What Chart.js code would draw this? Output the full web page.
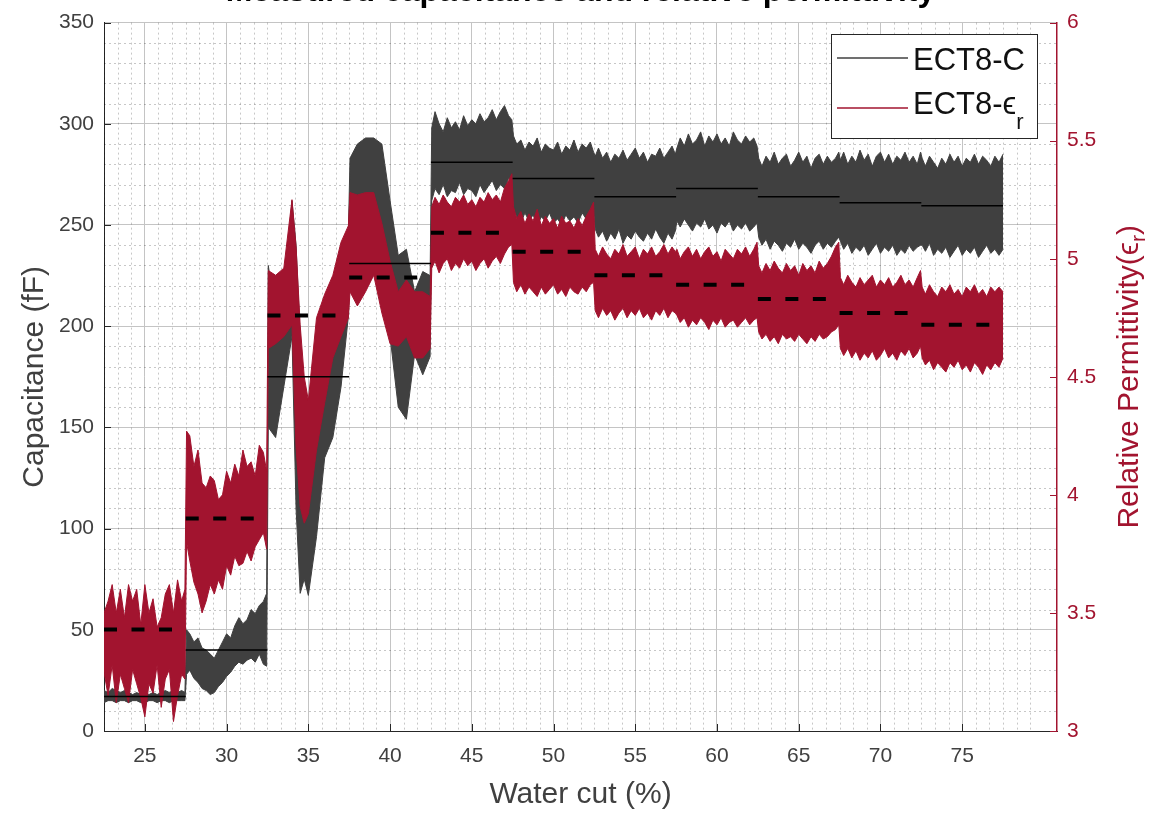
<!DOCTYPE html>
<html>
<head>
<meta charset="utf-8">
<script src="https://cdn.jsdelivr.net/npm/chart.js@4.4.1/dist/chart.umd.min.js"></script>
<style>
  html, body { margin: 0; padding: 0; background: #fff; }
</style>
</head>
<body>
<canvas id="ectChart" width="1155" height="816"></canvas>
<script>
// water cut sample positions (%), one row per step plateau
const waterCut = [
  22.5, 22.75, 23, 23.25, 23.5, 23.75, 24, 24.25, 24.5, 24.75, 25, 25.25, 25.5, 25.75, 26, 26.25, 26.5, 26.75, 27, 27.25, 27.45,
  27.55, 27.75, 28, 28.25, 28.5, 28.75, 29, 29.25, 29.5, 29.75, 30, 30.25, 30.5, 30.75, 31, 31.25, 31.5, 31.75, 32, 32.25, 32.45,
  32.55, 33, 33.5, 34, 34.25, 34.5, 34.75, 35, 35.5, 36, 36.5, 37, 37.45,
  37.55, 38, 38.5, 39, 39.5, 40, 40.5, 41, 41.5, 42, 42.45,
  42.55, 42.75, 43, 43.25, 43.5, 43.75, 44, 44.25, 44.5, 44.75, 45, 45.25, 45.5, 45.75, 46, 46.25, 46.5, 46.75, 47, 47.25, 47.45,
  47.55, 47.75, 48, 48.25, 48.5, 48.75, 49, 49.25, 49.5, 49.75, 50, 50.25, 50.5, 50.75, 51, 51.25, 51.5, 51.75, 52, 52.25, 52.45,
  52.55, 52.75, 53, 53.25, 53.5, 53.75, 54, 54.25, 54.5, 54.75, 55, 55.25, 55.5, 55.75, 56, 56.25, 56.5, 56.75, 57, 57.25, 57.45,
  57.55, 57.75, 58, 58.25, 58.5, 58.75, 59, 59.25, 59.5, 59.75, 60, 60.25, 60.5, 60.75, 61, 61.25, 61.5, 61.75, 62, 62.25, 62.45,
  62.55, 62.75, 63, 63.25, 63.5, 63.75, 64, 64.25, 64.5, 64.75, 65, 65.25, 65.5, 65.75, 66, 66.25, 66.5, 66.75, 67, 67.25, 67.45,
  67.55, 67.75, 68, 68.25, 68.5, 68.75, 69, 69.25, 69.5, 69.75, 70, 70.25, 70.5, 70.75, 71, 71.25, 71.5, 71.75, 72, 72.25, 72.45,
  72.55, 72.75, 73, 73.25, 73.5, 73.75, 74, 74.25, 74.5, 74.75, 75, 75.25, 75.5, 75.75, 76, 76.25, 76.5, 76.75, 77, 77.25, 77.5
];

// capacitance noise envelope (fF)
const capHigh = [
  20, 19, 21, 20, 19, 20, 19, 18, 19, 18, 19, 18, 19, 18, 19, 20, 19, 20, 19, 20, 19,
  50, 48, 44, 46, 41, 40, 38, 36, 40, 44, 48, 46, 52, 56, 53, 55, 60, 58, 62, 64, 68,
  230, 205, 212, 262, 240, 195, 140, 130, 158, 180, 205, 218, 246,
  283, 290, 293, 293, 290, 262, 235, 238, 217, 227, 225,
  298, 306, 300, 296, 303, 298, 301, 297, 304, 299, 302, 300, 305, 301, 303, 307, 302, 306, 309, 304, 302,
  294, 290, 292, 287, 291, 289, 293, 286, 290, 288, 287, 291, 285, 289, 287, 292, 286, 290, 288, 291, 286,
  284, 288, 283, 286, 281, 285, 283, 287, 282, 285, 288, 283, 286, 281, 285, 284, 288, 283, 286, 289, 285,
  288, 293, 289, 295, 290, 292, 296, 289, 294, 291, 295, 290, 293, 289, 296, 292, 290, 294, 291, 293, 289,
  283, 279, 284, 281, 286, 280, 283, 285, 279, 282, 286, 281, 284, 278, 283, 285, 280, 284, 281, 283, 286,
  282, 286, 280, 284, 281, 287, 282, 285, 279, 284, 286, 281, 285, 280, 284, 282, 286, 281, 284, 280, 286,
  283, 279, 284, 281, 278, 283, 280, 285, 281, 284, 279, 283, 281, 285, 280, 284, 282, 279, 284, 281, 285
];
const capLow = [
  14, 15, 15, 14, 15, 15, 14, 15, 15, 14, 14, 15, 15, 14, 15, 15, 14, 15, 15, 15, 15,
  28, 30, 26, 24, 21, 20, 18, 19, 22, 24, 27, 29, 32, 34, 33, 35, 36, 34, 38, 33, 32,
  150, 145, 170, 195, 110, 68, 75, 67, 96, 135, 145, 170, 205,
  233, 248, 242, 238, 219, 195, 160, 154, 186, 176, 185,
  262, 268, 265, 270, 264, 267, 266, 271, 265, 268, 267, 264, 270, 266, 269, 272, 267, 270, 268, 273, 272,
  258, 254, 251, 256, 252, 255, 250, 254, 252, 256, 251, 253, 250, 255, 252, 254, 251, 256, 253, 255, 257,
  248, 244, 247, 242, 246, 243, 248, 241, 245, 243, 247, 244, 242, 246, 243, 248, 244, 241, 246, 243, 247,
  252, 249, 253, 250, 247, 251, 249, 253, 248, 250, 246, 251, 249, 252, 247, 250, 248, 251, 247, 249, 251,
  244, 240, 243, 238, 242, 240, 237, 241, 239, 243, 238, 241, 239, 236, 240, 242, 238, 241, 239, 242, 244,
  242, 238, 241, 236, 239, 237, 240, 235, 238, 241, 236, 239, 237, 240, 235, 238, 236, 240, 237, 239, 240,
  240, 237, 241, 235, 238, 236, 239, 234, 237, 240, 235, 238, 236, 239, 234, 237, 240, 236, 238, 235, 238
];

// relative permittivity noise envelope
const epsHigh = [
  3.50, 3.55, 3.62, 3.50, 3.60, 3.48, 3.62, 3.55, 3.60, 3.45, 3.62, 3.50, 3.56, 3.44, 3.48, 3.58, 3.62, 3.50, 3.64, 3.55, 3.60,
  4.27, 4.25, 4.12, 4.19, 4.05, 4.03, 4.08, 4.06, 3.98, 4.00, 4.10, 4.05, 4.13, 4.08, 4.19, 4.12, 4.14, 4.08, 4.21, 4.18, 4.10,
  4.95, 4.93, 4.96, 5.25, 5.05, 4.72, 4.50, 4.40, 4.75, 4.85, 4.93, 5.07, 5.14,
  5.28, 5.27, 5.28, 5.28, 5.15, 4.99, 4.86, 4.91, 4.86, 4.86, 4.84,
  5.22, 5.26, 5.23, 5.27, 5.24, 5.22, 5.26, 5.24, 5.27, 5.23, 5.25, 5.22, 5.26, 5.24, 5.28, 5.25, 5.27, 5.24, 5.30, 5.33, 5.36,
  5.22, 5.17, 5.20, 5.15, 5.19, 5.16, 5.21, 5.14, 5.18, 5.15, 5.17, 5.13, 5.18, 5.15, 5.16, 5.13, 5.17, 5.14, 5.18, 5.21, 5.24,
  5.04, 5.01, 5.05, 5.02, 5.00, 5.04, 5.02, 5.06, 5.01, 5.03, 5.05, 5.00, 5.04, 5.02, 5.05, 5.01, 5.03, 5.06, 5.02, 5.05, 5.03,
  5.04, 5.00, 5.03, 5.05, 5.01, 5.04, 5.00, 5.03, 5.05, 5.01, 5.03, 4.99, 5.04, 5.02, 5.00, 5.04, 5.02, 5.05, 5.01, 5.04, 5.07,
  4.97, 4.94, 4.98, 4.95, 4.99, 4.96, 4.94, 4.98, 4.95, 4.97, 4.93, 4.98, 4.95, 4.97, 4.94, 4.99, 4.96, 4.98, 5.01, 5.05, 5.07,
  4.92, 4.89, 4.93, 4.90, 4.88, 4.92, 4.89, 4.91, 4.93, 4.88, 4.91, 4.89, 4.92, 4.88, 4.90, 4.93, 4.89, 4.91, 4.88, 4.92, 4.95,
  4.88, 4.85, 4.89, 4.86, 4.84, 4.88, 4.86, 4.89, 4.85, 4.87, 4.84, 4.88, 4.86, 4.89, 4.85, 4.87, 4.84, 4.88, 4.86, 4.88, 4.86
];
const epsLow = [
  3.25, 3.15, 3.28, 3.12, 3.24, 3.18, 3.12, 3.26, 3.20, 3.14, 3.06, 3.20, 3.16, 3.28, 3.10, 3.22, 3.26, 3.04, 3.15, 3.24, 3.22,
  3.80, 3.72, 3.63, 3.58, 3.50, 3.55, 3.62, 3.58, 3.64, 3.60, 3.70, 3.66, 3.74, 3.70, 3.71, 3.76, 3.72, 3.78, 3.81, 3.84, 3.77,
  4.62, 4.64, 4.67, 4.72, 4.20, 3.95, 3.88, 3.92, 4.19, 4.39, 4.58, 4.67, 4.75,
  4.86, 4.80, 4.86, 4.93, 4.77, 4.64, 4.63, 4.67, 4.58, 4.58, 4.62,
  4.96, 4.99, 4.94, 4.98, 5.00, 4.95, 4.98, 4.96, 5.00, 4.97, 4.99, 4.95, 4.98, 5.00, 4.96, 4.99, 5.01, 4.98, 5.02, 5.05, 5.06,
  4.90, 4.86, 4.89, 4.85, 4.88, 4.86, 4.84, 4.88, 4.85, 4.87, 4.89, 4.85, 4.87, 4.84, 4.88, 4.86, 4.85, 4.88, 4.86, 4.89, 4.90,
  4.78, 4.75, 4.79, 4.76, 4.78, 4.74, 4.77, 4.79, 4.75, 4.78, 4.76, 4.79, 4.75, 4.77, 4.74, 4.78, 4.76, 4.79, 4.75, 4.78, 4.77,
  4.76, 4.73, 4.75, 4.71, 4.74, 4.72, 4.75, 4.73, 4.70, 4.74, 4.72, 4.75, 4.71, 4.73, 4.74, 4.71, 4.73, 4.75, 4.72, 4.74, 4.75,
  4.69, 4.66, 4.68, 4.65, 4.67, 4.64, 4.68, 4.66, 4.67, 4.65, 4.68, 4.66, 4.64, 4.67, 4.65, 4.68, 4.66, 4.67, 4.69, 4.70, 4.72,
  4.62, 4.59, 4.62, 4.58, 4.61, 4.57, 4.60, 4.58, 4.61, 4.57, 4.59, 4.62, 4.58, 4.60, 4.57, 4.61, 4.59, 4.62, 4.58, 4.60, 4.63,
  4.58, 4.55, 4.57, 4.53, 4.56, 4.54, 4.52, 4.56, 4.54, 4.57, 4.53, 4.55, 4.52, 4.56, 4.54, 4.51, 4.55, 4.53, 4.56, 4.54, 4.58
];

// plateau edges and mean level of each plateau
const stepEdges = [22.5, 27.5, 32.5, 37.5, 42.5, 47.5, 52.5, 57.5, 62.5, 67.5, 72.5, 77.5];
const capMean = [17, 40, 175, 231, 281, 273, 264, 268, 264, 261, 259.5];
const epsMean = [3.43, 3.90, 4.76, 4.92, 5.11, 5.03, 4.93, 4.89, 4.83, 4.77, 4.72];

// tick labels
const xTicks = [25, 30, 35, 40, 45, 50, 55, 60, 65, 70, 75];
const capTicks = [0, 50, 100, 150, 200, 250, 300, 350];
const epsTicks = [3, 3.5, 4, 4.5, 5, 5.5, 6];

const GRAY = '#404040';
const RED = '#a2142f';
const AXIS = '#262626';
const FONT = "'Liberation Sans', Arial, 'DejaVu Sans', sans-serif";

function toPoints(ys) {
  return waterCut.map((x, i) => ({ x: x, y: ys[i] }));
}

function stepPoints(levels) {
  const pts = [];
  levels.forEach((v, i) => {
    pts.push({ x: stepEdges[i], y: v });
    pts.push({ x: stepEdges[i + 1], y: v });
    pts.push({ x: stepEdges[i + 1], y: null });
  });
  return pts;
}

// dotted minor grid + inward tick marks, drawn under the data
const minorGrid = {
  id: 'minorGrid',
  beforeDatasetsDraw(chart) {
    const { ctx, chartArea, scales } = chart;
    const { left, right, top, bottom } = chartArea;
    ctx.save();
    ctx.strokeStyle = 'rgba(0,0,0,0.22)';
    ctx.lineWidth = 1;
    ctx.setLineDash([2, 3]);
    for (let k = 27; k * 5 / 6 <= 80.8; k++) {
      const v = k * 5 / 6;
      if (Math.abs(v / 5 - Math.round(v / 5)) < 1e-6) continue;
      const px = Math.round(scales.x.getPixelForValue(v)) + 0.5;
      ctx.beginPath(); ctx.moveTo(px, top); ctx.lineTo(px, bottom); ctx.stroke();
    }
    for (let v = 10; v < 350; v += 10) {
      if (v % 50 === 0) continue;
      const py = Math.round(scales.y.getPixelForValue(v)) + 0.5;
      ctx.beginPath(); ctx.moveTo(left, py); ctx.lineTo(right, py); ctx.stroke();
    }
    ctx.setLineDash([]);
    ctx.strokeStyle = AXIS;
    xTicks.forEach(v => {
      const px = Math.round(scales.x.getPixelForValue(v)) + 0.5;
      ctx.beginPath(); ctx.moveTo(px, bottom); ctx.lineTo(px, bottom - 7); ctx.stroke();
    });
    capTicks.forEach(v => {
      const py = Math.round(scales.y.getPixelForValue(v)) + 0.5;
      ctx.beginPath(); ctx.moveTo(left, py); ctx.lineTo(left + 7, py); ctx.stroke();
    });
    ctx.strokeStyle = RED;
    epsTicks.forEach(v => {
      const py = Math.round(scales.y1.getPixelForValue(v)) + 0.5;
      ctx.beginPath(); ctx.moveTo(right, py); ctx.lineTo(right - 7, py); ctx.stroke();
    });
    ctx.restore();
  }
};

// clipped title, right axis title and legend (they need subscripts)
const overlay = {
  id: 'overlay',
  afterDraw(chart) {
    const { ctx, chartArea } = chart;
    ctx.save();
    ctx.fillStyle = '#000';
    ctx.font = 'bold 32px ' + FONT;
    ctx.textAlign = 'center';
    ctx.textBaseline = 'alphabetic';
    ctx.fillText('Measured capacitance and relative permittivity', (chartArea.left + chartArea.right) / 2, 1);

    // right axis title, rotated
    const main = 'Relative Permittivity(\u03f5';
    ctx.font = '30px ' + FONT;
    const w1 = ctx.measureText(main).width;
    ctx.font = '21px ' + FONT;
    const w2 = ctx.measureText('r').width;
    ctx.font = '30px ' + FONT;
    const w3 = ctx.measureText(')').width;
    const total = w1 + w2 + w3;
    ctx.translate(1138, (chartArea.top + chartArea.bottom) / 2);
    ctx.rotate(-Math.PI / 2);
    ctx.fillStyle = RED;
    ctx.textAlign = 'left';
    const x0 = -total / 2;
    ctx.fillText(main, x0, 0);
    ctx.font = '21px ' + FONT;
    ctx.fillText('r', x0 + w1, 7);
    ctx.font = '30px ' + FONT;
    ctx.fillText(')', x0 + w1 + w2, 0);
    ctx.restore();

    // legend box
    const ds = chart.data.datasets;
    ctx.save();
    ctx.fillStyle = '#fff';
    ctx.fillRect(831, 34, 206, 104);
    ctx.strokeStyle = AXIS;
    ctx.lineWidth = 1;
    ctx.strokeRect(831.5, 34.5, 206, 104);
    ctx.lineWidth = 1.5;
    ctx.strokeStyle = GRAY;
    ctx.beginPath(); ctx.moveTo(837, 58); ctx.lineTo(908, 58); ctx.stroke();
    ctx.strokeStyle = RED;
    ctx.beginPath(); ctx.moveTo(837, 108); ctx.lineTo(908, 108); ctx.stroke();
    ctx.fillStyle = '#111';
    ctx.font = '31px ' + FONT;
    ctx.textAlign = 'left';
    ctx.fillText(ds[4].label, 913, 70);
    ctx.fillText(ds[2].label, 913, 114);
    const wl = ctx.measureText(ds[2].label).width;
    ctx.font = '22px ' + FONT;
    ctx.fillText('r', 913 + wl, 129);
    ctx.restore();
  }
};

const tickFont = { family: FONT, size: 21 };
const titleFont = { family: FONT, size: 30 };

const ectChart = new Chart(document.getElementById('ectChart'), {
  type: 'line',
  data: {
    datasets: [
      {
        label: 'capMean', data: stepPoints(capMean), yAxisID: 'y', order: 0,
        borderColor: '#000', borderWidth: 1.5, fill: false, spanGaps: false
      },
      {
        label: 'epsMean', data: stepPoints(epsMean), yAxisID: 'y1', order: 0,
        borderColor: '#000', borderWidth: 4, borderDash: [13, 14.5], borderCapStyle: 'butt',
        fill: false, spanGaps: false
      },
      {
        label: 'ECT8-\u03f5', data: toPoints(epsHigh), yAxisID: 'y1', order: 1,
        borderColor: RED, backgroundColor: RED, borderWidth: 1, fill: '+1'
      },
      {
        label: 'epsLow', data: toPoints(epsLow), yAxisID: 'y1', order: 1,
        borderColor: RED, borderWidth: 1, fill: false
      },
      {
        label: 'ECT8-C', data: toPoints(capHigh), yAxisID: 'y', order: 2,
        borderColor: GRAY, backgroundColor: GRAY, borderWidth: 1, fill: '+1'
      },
      {
        label: 'capLow', data: toPoints(capLow), yAxisID: 'y', order: 2,
        borderColor: GRAY, borderWidth: 1, fill: false
      }
    ]
  },
  options: {
    responsive: false,
    animation: false,
    layout: { padding: { top: 15, left: 0, right: 0, bottom: 0 } },
    elements: { point: { radius: 0 }, line: { tension: 0 } },
    plugins: {
      legend: { display: false },
      tooltip: { enabled: false }
    },
    scales: {
      x: {
        type: 'linear', min: 22.5, max: 80.8,
        afterBuildTicks: s => { s.ticks = xTicks.map(v => ({ value: v })); },
        afterFit: s => { s.height = 85; },
        grid: { color: '#c4c4c4', drawTicks: false },
        border: { color: AXIS, width: 1 },
        ticks: { color: GRAY, font: tickFont, padding: 13, maxRotation: 0, callback: v => String(v) },
        title: { display: true, text: 'Water cut (%)', color: GRAY, font: titleFont, padding: { top: 0, bottom: 3 } }
      },
      y: {
        position: 'left', min: 0, max: 350,
        afterBuildTicks: s => { s.ticks = capTicks.map(v => ({ value: v })); },
        afterFit: s => { s.width = 104; },
        grid: { color: '#c4c4c4', drawTicks: false },
        border: { color: AXIS, width: 1 },
        ticks: { color: GRAY, font: tickFont, padding: 10, callback: v => String(v) },
        title: { display: true, text: 'Capacitance (fF)', color: GRAY, font: titleFont, padding: { top: 17, bottom: 0 } }
      },
      y1: {
        position: 'right', min: 3, max: 6,
        afterBuildTicks: s => { s.ticks = epsTicks.map(v => ({ value: v })); },
        afterFit: s => { s.width = 98; },
        grid: { drawOnChartArea: false, drawTicks: false },
        border: { color: RED, width: 1.5 },
        ticks: { color: RED, font: tickFont, padding: 10, callback: v => String(v) }
      }
    }
  },
  plugins: [minorGrid, overlay]
});
</script>
</body>
</html>
